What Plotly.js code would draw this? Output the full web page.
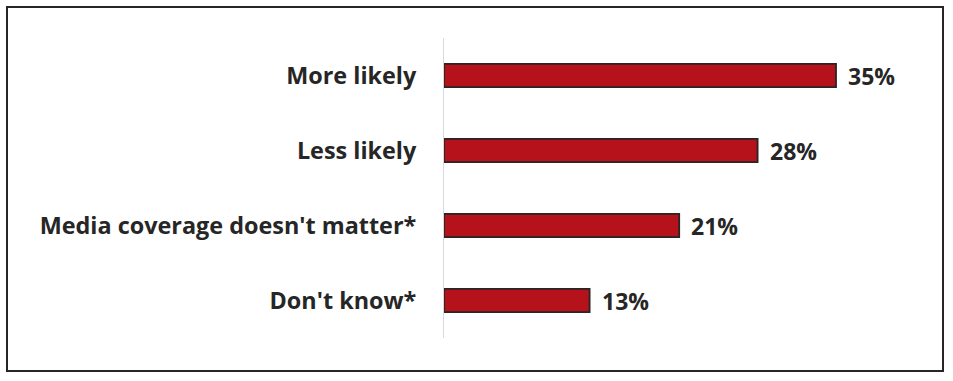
<!DOCTYPE html>
<html>
<head>
<meta charset="utf-8">
<script src="https://cdn.plot.ly/plotly-3.0.1.min.js"></script>
<style>
html,body{margin:0;padding:0;background:#fff;}
#chart{width:953px;height:381px;}
</style>
</head>
<body>
<div id="chart"></div>
<script>
const categories = ["More likely", "Less likely", "Media coverage doesn't matter*", "Don't know*"];
const values = [35, 28, 21, 13];
const valueLabels = ["35%", "28%", "21%", "13%"];

const FONT = "'Open Sans', sans-serif";
const TXT = "#262626";

const trace = {
  type: "bar",
  orientation: "h",
  x: values,
  y: categories,
  marker: {color: "#B5121B", line: {color: "#262626", width: 1.8}},
  hoverinfo: "none"
};

const annotations = values.map((v, i) => ({
  x: v, y: categories[i], xref: "x", yref: "y",
  text: "<b>" + valueLabels[i] + "</b>",
  showarrow: false, xanchor: "left", xshift: 10,
  font: {family: FONT, size: 23, color: TXT}
}));

const layout = {
  width: 953, height: 381,
  margin: {l: 444, r: 61, t: 38, b: 43},
  paper_bgcolor: "#fff", plot_bgcolor: "#fff",
  showlegend: false,
  bargap: 0.69,
  xaxis: {range: [0, 40], visible: false, fixedrange: true},
  yaxis: {
    autorange: "reversed",
    showline: true, linecolor: "#d9d9d9", linewidth: 1,
    showgrid: false, zeroline: false, ticks: "",
    ticklabelstandoff: 22,
    tickfont: {family: FONT, size: 23.4, color: TXT, weight: "bold"},
    fixedrange: true
  },
  annotations: annotations,
  shapes: [{
    type: "rect", xref: "paper", yref: "paper",
    x0: (7 - 444) / 448, x1: (943 - 444) / 448,
    y0: -(371 - 338) / 300, y1: 1 + (38 - 7) / 300,
    line: {color: "#262626", width: 2}, fillcolor: "rgba(0,0,0,0)", layer: "above"
  }]
};

Plotly.newPlot("chart", [trace], layout, {displayModeBar: false, staticPlot: true});
</script>
</body>
</html>
